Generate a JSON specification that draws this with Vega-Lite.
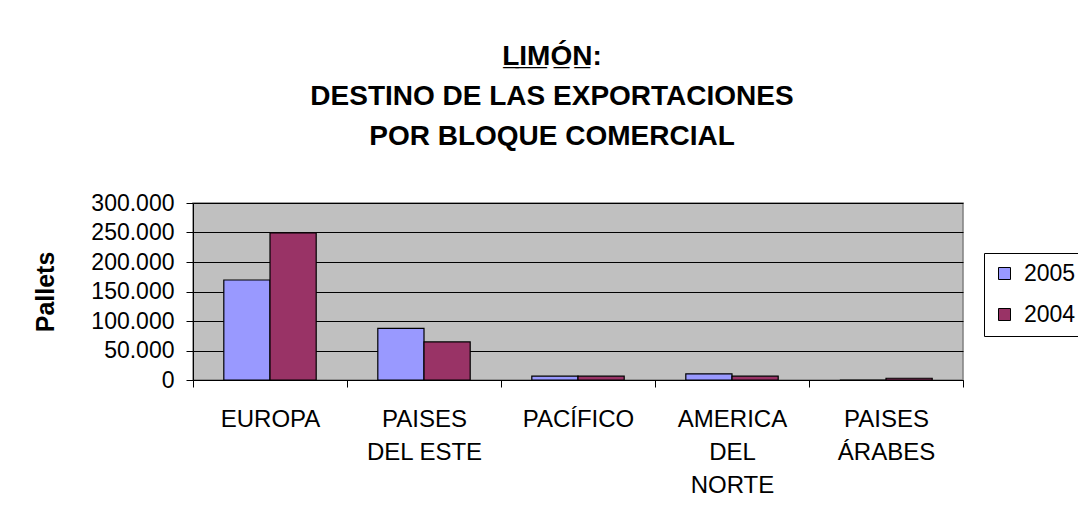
{
  "$schema": "https://vega.github.io/schema/vega-lite/v6.json",
  "width": 770,
  "height": 177,
  "autosize": {"type": "none"},
  "padding": {"left": 193, "top": 203, "right": 115, "bottom": 140},
  "background": "white",
  "title": {
    "text": ["L̲I̲M̲Ó̲N̲:", "DESTINO DE LAS EXPORTACIONES", "POR BLOQUE COMERCIAL"],
    "font": "Liberation Sans",
    "fontSize": 28,
    "fontWeight": "bold",
    "color": "black",
    "lineHeight": 40,
    "anchor": "middle",
    "frame": "group",
    "dx": -26,
    "offset": 41
  },
  "data": {
    "values": [
      {"bloque": "EUROPA", "anio": "2005", "pallets": 169500},
      {"bloque": "EUROPA", "anio": "2004", "pallets": 249500},
      {"bloque": "PAISES DEL ESTE", "anio": "2005", "pallets": 87500},
      {"bloque": "PAISES DEL ESTE", "anio": "2004", "pallets": 64500},
      {"bloque": "PACÍFICO", "anio": "2005", "pallets": 6500},
      {"bloque": "PACÍFICO", "anio": "2004", "pallets": 6500},
      {"bloque": "AMERICA DEL NORTE", "anio": "2005", "pallets": 10500},
      {"bloque": "AMERICA DEL NORTE", "anio": "2004", "pallets": 6500},
      {"bloque": "PAISES ÁRABES", "anio": "2005", "pallets": 0},
      {"bloque": "PAISES ÁRABES", "anio": "2004", "pallets": 3000}
    ]
  },
  "mark": {"type": "bar", "stroke": "black", "strokeWidth": 1.2},
  "encoding": {
    "x": {
      "field": "bloque",
      "type": "nominal",
      "sort": null,
      "scale": {"paddingInner": 0, "paddingOuter": 0},
      "axis": {
        "title": null,
        "labelAngle": 0,
        "labelFont": "Liberation Sans",
        "labelFontSize": 24,
        "labelColor": "black",
        "labelPadding": 20,
        "labelLineHeight": 33,
        "labelBaseline": "top",
        "labelExpr": "datum.value == 'PAISES DEL ESTE' ? ['PAISES', 'DEL ESTE'] : datum.value == 'AMERICA DEL NORTE' ? ['AMERICA', 'DEL', 'NORTE'] : datum.value == 'PAISES ÁRABES' ? ['PAISES', 'ÁRABES'] : datum.value",
        "tickBand": "extent",
        "tickSize": 7,
        "tickColor": "black",
        "domainColor": "black",
        "grid": false
      }
    },
    "xOffset": {
      "field": "anio",
      "type": "nominal",
      "sort": ["2005", "2004"],
      "scale": {"paddingInner": 0, "paddingOuter": 0.667}
    },
    "y": {
      "field": "pallets",
      "type": "quantitative",
      "scale": {"domain": [0, 300000], "nice": false},
      "axis": {
        "title": "Pallets",
        "titleFont": "Liberation Sans",
        "titleFontSize": 25,
        "titleFontWeight": "bold",
        "titleColor": "black",
        "titleX": -135,
        "values": [0, 50000, 100000, 150000, 200000, 250000, 300000],
        "labelExpr": "replace(format(datum.value, ','), /,/g, '.')",
        "labelFont": "Liberation Sans",
        "labelFontSize": 23,
        "labelColor": "black",
        "labelPadding": 12,
        "tickSize": 7,
        "tickColor": "black",
        "domainColor": "black",
        "gridColor": "black",
        "gridWidth": 1,
        "gridOpacity": 1
      }
    },
    "color": {
      "field": "anio",
      "type": "nominal",
      "sort": ["2005", "2004"],
      "scale": {"domain": ["2005", "2004"], "range": ["#9999FF", "#993366"]},
      "legend": {
        "title": null,
        "orient": "none",
        "legendX": 791,
        "legendY": 50,
        "symbolType": "square",
        "symbolSize": 144,
        "symbolStrokeColor": "black",
        "symbolStrokeWidth": 1,
        "labelFont": "Liberation Sans",
        "labelFontSize": 23,
        "labelColor": "black",
        "labelOffset": 8,
        "rowPadding": 17,
        "padding": 9,
        "strokeColor": "black",
        "fillColor": "white"
      }
    }
  },
  "config": {
    "view": {"fill": "#C0C0C0", "stroke": "#808080", "strokeWidth": 1.5}
  }
}
